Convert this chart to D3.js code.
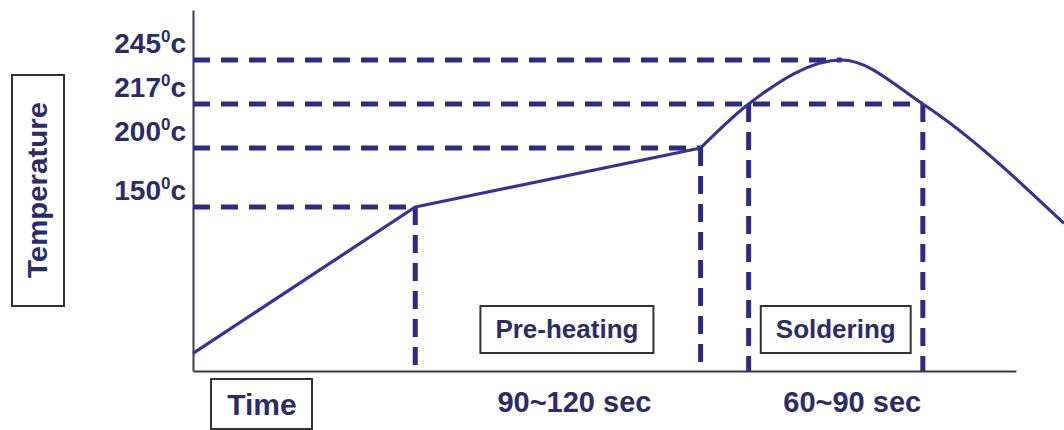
<!DOCTYPE html>
<html>
<head>
<meta charset="utf-8">
<script src="https://cdn.jsdelivr.net/npm/d3@7"></script>
<style>
  body { margin: 0; background: #fff; }
  text { font-family: "Liberation Sans", Arial, sans-serif; font-weight: bold; }
</style>
</head>
<body>
<div id="chart-container"></div>
<script>
// reflow profile (time in s, temperature in deg C)
const curveTime = [0, 74, 169]
const curveTemp = [25, 150, 200]
const peakTime = [169, 185, 216, 243, 290]
const peakTemp = [200, 217, 245, 217, 136]

const tempTicks = [150, 200, 217, 245]
const guideEndTime = [74, 169, 243, 216]      // where each dashed level meets the curve
const dropTime = [74, 169, 185, 243]          // vertical dashed lines
const dropTemp = [150, 200, 217, 217]

const phaseNames = ["Pre-heating", "Soldering"]
const phaseLabelTime = [124.5, 214]
const phaseDurations = ["90~120 sec", "60~90 sec"]
const durationLabelTime = [127, 219.5]
const axisEndTime = 274

const width = 1064, height = 430

const x = d3.scaleLinear()
    .domain([0, 290])
    .range([193, 1064])
// schematic axis: not to scale, so piecewise linear
const y = d3.scaleLinear()
    .domain([10, 150, 200, 217, 245, 280])
    .range([371, 207, 148, 104, 60, 10])

const textColor = "#2c2c6a"
const curveColor = "#35329c"
const dashColor = "#2d2b86"

const svg = d3.select("#chart-container")
  .append("svg")
    .attr("width", width)
    .attr("height", height)

// axes (just the lines)
svg.append("g")
    .attr("transform", `translate(${x(0)},0)`)
    .call(d3.axisLeft(y).tickValues([]).tickSizeOuter(0))
    .call(g => g.select(".domain").attr("stroke", "#3a3a48").attr("stroke-width", 2))

const xAxisScale = x.copy().domain([0, axisEndTime]).range([x(0), x(axisEndTime)])
svg.append("g")
    .attr("transform", `translate(0,${y(10)})`)
    .call(d3.axisBottom(xAxisScale).tickValues([]).tickSizeOuter(0))
    .call(g => g.select(".domain").attr("stroke", "#3a3a48").attr("stroke-width", 2))

// horizontal dashed levels
svg.selectAll(".hguide")
  .data(tempTicks)
  .enter().append("line")
    .attr("class", "hguide")
    .attr("x1", x(0))
    .attr("x2", (d, i) => x(guideEndTime[i]))
    .attr("y1", d => y(d))
    .attr("y2", d => y(d))
    .attr("stroke", dashColor)
    .attr("stroke-width", 5)
    .attr("stroke-dasharray", "17,11")

// vertical dashed drops
svg.selectAll(".vguide")
  .data(dropTime)
  .enter().append("line")
    .attr("class", "vguide")
    .attr("x1", d => x(d))
    .attr("x2", d => x(d))
    .attr("y1", (d, i) => y(dropTemp[i]))
    .attr("y2", y(10))
    .attr("stroke", dashColor)
    .attr("stroke-width", 5)
    .attr("stroke-dasharray", "18,10")

// temperature labels like 245⁰c
const tickLabel = svg.selectAll(".tlabel")
  .data(tempTicks)
  .enter().append("text")
    .attr("class", "tlabel")
    .attr("x", x(0) - 7)
    .attr("y", d => y(d) - 7)
    .attr("text-anchor", "end")
    .attr("fill", textColor)
    .style("font-size", "28px")
tickLabel.append("tspan").text(d => d)
tickLabel.append("tspan").attr("dy", -11).style("font-size", "17px").text("0")
tickLabel.append("tspan").attr("dy", 11).text("c")

// the profile curve
const ramp = d3.range(curveTime.length).map(i => [curveTime[i], curveTemp[i]])
const peak = d3.range(peakTime.length).map(i => [peakTime[i], peakTemp[i]])

svg.append("path")
    .datum(ramp)
    .attr("fill", "none")
    .attr("stroke", curveColor)
    .attr("stroke-width", 3.2)
    .attr("stroke-linejoin", "round")
    .attr("d", d3.line().x(d => x(d[0])).y(d => y(d[1])))

svg.append("path")
    .datum(peak)
    .attr("fill", "none")
    .attr("stroke", curveColor)
    .attr("stroke-width", 3.2)
    .attr("d", d3.line().x(d => x(d[0])).y(d => y(d[1])).curve(d3.curveMonotoneX))

// phase boxes
const phase = svg.selectAll(".phase")
  .data(phaseNames)
  .enter().append("g")
    .attr("class", "phase")
    .attr("transform", (d, i) => `translate(${x(phaseLabelTime[i])},0)`)

phase.append("text")
    .attr("y", 338)
    .attr("text-anchor", "middle")
    .attr("fill", textColor)
    .style("font-size", "26px")
    .text(d => d)

phase.each(function () {
    const g = d3.select(this)
    const bb = g.select("text").node().getBBox()
    g.insert("rect", "text")
        .attr("x", bb.x - 15)
        .attr("y", 306)
        .attr("width", bb.width + 30)
        .attr("height", 47)
        .attr("fill", "none")
        .attr("stroke", "#333")
        .attr("stroke-width", 2)
})

svg.selectAll(".duration")
  .data(phaseDurations)
  .enter().append("text")
    .attr("class", "duration")
    .attr("x", (d, i) => x(durationLabelTime[i]))
    .attr("y", 412)
    .attr("text-anchor", "middle")
    .attr("fill", textColor)
    .style("font-size", "29px")
    .text(d => d)

// axis titles in boxes
svg.append("rect")
    .attr("x", 211).attr("y", 379)
    .attr("width", 101).attr("height", 50)
    .attr("fill", "none").attr("stroke", "#333").attr("stroke-width", 2)
svg.append("text")
    .attr("x", 262).attr("y", 415)
    .attr("text-anchor", "middle")
    .attr("fill", textColor)
    .style("font-size", "30px")
    .text("Time")

svg.append("rect")
    .attr("x", 12).attr("y", 75)
    .attr("width", 52).attr("height", 231)
    .attr("fill", "none").attr("stroke", "#333").attr("stroke-width", 2)
svg.append("text")
    .attr("transform", "translate(47,190) rotate(-90)")
    .attr("text-anchor", "middle")
    .attr("fill", textColor)
    .attr("textLength", 176)
    .attr("lengthAdjust", "spacingAndGlyphs")
    .style("font-size", "27px")
    .text("Temperature")
</script>
</body>
</html>
